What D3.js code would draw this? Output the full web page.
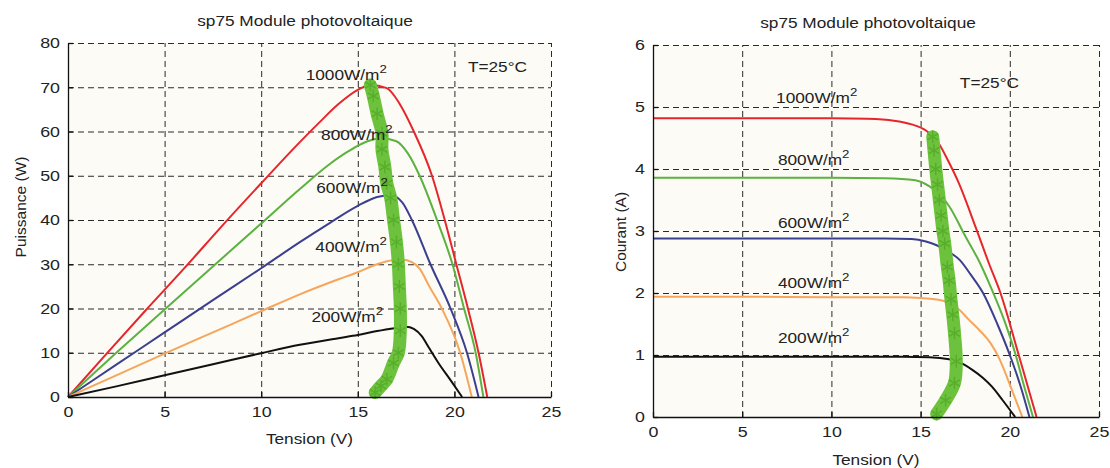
<!DOCTYPE html>
<html>
<head>
<meta charset="utf-8">
<script src="https://d3js.org/d3.v7.min.js"></script>
<style>
  body { margin: 0; background: #fff; }
  text { font-family: "Liberation Sans", Arial, sans-serif; fill: #222; }
  .grid line { stroke: #2a2a2a; stroke-dasharray: 6,4; stroke-width: 1; }
  .grid path { display: none; }
  .axis path, .axis line { stroke: #111; stroke-width: 1.3; }
  .axis text { font-size: 15.5px; fill: #222; }
</style>
</head>
<body>
<div id="chart"></div>
<script>

// ---- data ----
const irradiances = ["1000", "800", "600", "400", "200"];
const tempLabel = "T=25°C";
const chartTitle = "sp75 Module photovoltaique";
const xTicks = [0, 5, 10, 15, 20, 25];
const powerTicks = [0, 10, 20, 30, 40, 50, 60, 70, 80];
const currentTicks = [0, 1, 2, 3, 4, 5, 6];

// P-V curves [V, P]
const pv1000 = [[0,0],[2,9.8],[4,19.5],[6,29],[8,38.8],[10,48.3],[12,57.6],[13,62],[14,66.2],[15,69.4],[15.65,70.5],[16.5,69.8],[17.2,66],[17.9,60],[18.84,50],[19.5,40],[20.1,30],[20.7,20],[21.25,10],[21.7,0]];
const pv800  = [[0,0],[2.5,10],[5,19.8],[7.5,29.5],[10,39.2],[12,47],[13.5,52.5],[14.5,55.5],[15.5,57.8],[16.2,58.5],[17,57.8],[17.6,55],[18.2,50],[19.1,40],[19.9,30],[20.5,20],[21.1,10],[21.5,0]];
const pv600  = [[0,0],[2.5,7.3],[5,14.6],[7.5,21.9],[10,29.1],[12,35],[13.5,39.2],[15,43.2],[16,45.2],[16.7,45.6],[17.3,44],[17.8,40],[18.76,30],[19.8,20],[20.65,10],[21.25,0]];
const pv400  = [[0,0],[2.5,4.9],[5,9.8],[7.5,14.6],[10,19.4],[12,23.2],[14,26.6],[15,28.2],[16,30],[16.8,30.9],[17.3,31],[17.8,30.5],[18.2,29],[18.7,25],[19.35,20],[20.3,10],[20.9,0]];
const pv200  = [[0,0],[2.5,2.4],[5,4.9],[7.5,7.4],[10,9.9],[12,11.8],[14,13.3],[15,14],[16,14.9],[17,15.6],[17.5,15.9],[17.9,15.4],[18.3,13.8],[18.7,11],[19.2,7.5],[19.8,3.8],[20.4,0]];
const pvTrack = [[15.9,1],[16.2,2.5],[16.5,4],[16.85,7.7],[17.1,10],[17.2,15],[17.2,20],[17.15,25],[17.1,30],[17.0,35],[16.85,40],[16.7,45],[16.5,48.3],[16.4,52],[16.25,56],[16.25,59.6],[16.0,64],[15.8,68],[15.65,70.5]];

// I-V curves [V, I]
const iv1000 = [[0,4.82],[5,4.82],[10,4.82],[12,4.81],[13.5,4.78],[14.5,4.72],[15.3,4.62],[16,4.42],[16.6,4.1],[17.1,3.8],[18.1,3.05],[18.8,2.5],[19.5,1.98],[20.5,1.0],[21.0,0.5],[21.5,0]];
const iv800  = [[0,3.86],[5,3.86],[10,3.86],[13,3.85],[14.7,3.82],[15.5,3.72],[16.1,3.58],[16.6,3.4],[17.5,2.92],[18.3,2.5],[19.0,2.05],[19.7,1.55],[20.33,1.0],[20.8,0.5],[21.3,0]];
const iv600  = [[0,2.88],[5,2.88],[10,2.88],[13,2.88],[14.5,2.87],[15.3,2.83],[15.9,2.77],[16.6,2.66],[17.2,2.53],[17.8,2.3],[18.5,2.0],[19.3,1.5],[20.0,1.0],[20.6,0.5],[21.1,0]];
const iv400  = [[0,1.94],[5,1.94],[10,1.93],[14,1.93],[15,1.92],[15.8,1.9],[16.6,1.84],[17.2,1.72],[17.7,1.57],[18.3,1.4],[18.9,1.2],[19.4,0.95],[19.9,0.6],[20.3,0.3],[20.7,0]];
const iv200  = [[0,0.97],[5,0.97],[10,0.97],[14,0.97],[15.5,0.965],[16.6,0.93],[17.2,0.88],[17.9,0.76],[18.5,0.63],[19,0.49],[19.6,0.27],[20.3,0]];
const ivTrack = [[15.9,0.05],[16.4,0.27],[16.9,0.55],[17.0,0.9],[16.9,1.35],[16.8,1.65],[16.7,1.9],[16.6,2.2],[16.5,2.42],[16.35,2.8],[16.25,3.0],[16.15,3.25],[16.05,3.5],[15.95,3.75],[15.85,4.0],[15.75,4.3],[15.68,4.52]];

const curveColors = ["#e5262b", "#5cb240", "#3b3f8f", "#f6a65c", "#111111"];
const stretchX = 1.15; // the reference text looks wider than it is tall

const width = 1110, height = 468;

const svg = d3.select("#chart").append("svg")
  .attr("width", width)
  .attr("height", height);

// text placed through a translate + horizontal stretch
function addText(g, x, y, size, anchor) {
  return g.append("text")
    .attr("transform", "translate(" + x + "," + y + ") scale(" + stretchX + ",1)")
    .attr("text-anchor", anchor || "start")
    .attr("font-size", size);
}

function drawPanel(p) {
  const x = d3.scaleLinear().domain([0, 25]).range([p.left, p.right]);
  const y = d3.scaleLinear().domain([0, p.yMax]).range([p.bottom, p.top]);
  const g = svg.append("g");

  // plot background
  g.append("rect")
    .attr("x", x(0)).attr("y", y(p.yMax))
    .attr("width", x(25) - x(0)).attr("height", y(0) - y(p.yMax))
    .attr("fill", "#fdfbf6");

  // dashed grid
  g.append("g").attr("class", "grid")
    .attr("transform", "translate(0," + y(0) + ")")
    .call(d3.axisBottom(x).tickValues(xTicks.slice(1)).tickSize(-(y(0) - y(p.yMax))).tickFormat(""));
  g.append("g").attr("class", "grid")
    .attr("transform", "translate(" + x(0) + ",0)")
    .call(d3.axisLeft(y).tickValues(p.yTicks.slice(1)).tickSize(-(x(25) - x(0))).tickFormat(""));

  // curves
  const line = d3.line().x(d => x(d[0])).y(d => y(d[1])).curve(d3.curveMonotoneX);
  p.curves.forEach((c, i) => {
    g.append("path").datum(c)
      .attr("d", line)
      .attr("fill", "none")
      .attr("stroke", curveColors[i])
      .attr("stroke-width", 2);
  });

  // MPP track
  const trackLine = d3.line().x(d => x(d[0])).y(d => y(d[1])).curve(d3.curveCatmullRom.alpha(0.5));
  g.append("path").datum(p.track)
    .attr("d", trackLine)
    .attr("fill", "none")
    .attr("stroke", "#6cc23c")
    .attr("stroke-width", 13)
    .attr("stroke-linecap", "round");
  g.selectAll(".star").data(p.track).enter().append("path")
    .attr("transform", d => "translate(" + x(d[0]) + "," + y(d[1]) + ")")
    .attr("d", d3.symbol(d3.symbolAsterisk, 110))
    .attr("fill", "none")
    .attr("stroke", "#58ad2a")
    .attr("stroke-width", 1.4);

  // axes
  const xa = g.append("g").attr("class", "axis")
    .attr("transform", "translate(0," + y(0) + ")")
    .call(d3.axisBottom(x).tickValues(xTicks).tickSizeInner(-5).tickSizeOuter(0).tickPadding(9));
  const ya = g.append("g").attr("class", "axis")
    .attr("transform", "translate(" + x(0) + ",0)")
    .call(d3.axisLeft(y).tickValues(p.yTicks).tickFormat(d3.format("d")).tickSizeInner(-5).tickSizeOuter(0).tickPadding(7));
  xa.selectAll("text").attr("transform", "scale(" + stretchX + ",1)");
  ya.selectAll("text").attr("transform", "scale(" + stretchX + ",1)");

  // irradiance labels
  irradiances.forEach((v, i) => {
    const t = addText(g, x(p.labels[i][0]), y(p.labels[i][1]), 15);
    t.append("tspan").text(v + "W/m");
    t.append("tspan").text("2").attr("font-size", 11.5).attr("dy", -7);
  });

  addText(g, x(p.temp[0]), y(p.temp[1]), 15).text(tempLabel);

  // titles
  addText(g, p.titleX, p.top - 17, 15, "middle").text(chartTitle);
  addText(g, (p.left + p.right) / 2, p.bottom + p.xLabelOffset, 15, "middle").text("Tension (V)");

  g.append("text")
    .attr("transform", "translate(" + p.yLabelX + "," + p.yLabelY + ") rotate(-90)")
    .attr("text-anchor", "middle")
    .attr("font-size", 15.5)
    .text(p.yLabel);
}

drawPanel({
  left: 68, right: 551, top: 43, bottom: 397, yMax: 80,
  yTicks: powerTicks,
  curves: [pv1000, pv800, pv600, pv400, pv200],
  track: pvTrack,
  labels: [[12.3, 71.6], [13.1, 58.1], [12.85, 46.1], [12.8, 32.8], [12.6, 16.9]],
  temp: [20.7, 73.4],
  titleX: 305,
  xLabelOffset: 47,
  yLabel: "Puissance (W)", yLabelX: 26, yLabelY: 207
});

drawPanel({
  left: 653, right: 1099, top: 45, bottom: 417, yMax: 6,
  yTicks: currentTicks,
  curves: [iv1000, iv800, iv600, iv400, iv200],
  track: ivTrack,
  labels: [[6.9, 5.06], [7.0, 4.06], [7.0, 3.05], [7.0, 2.08], [7.0, 1.19]],
  temp: [17.2, 5.3],
  titleX: 868,
  xLabelOffset: 48,
  yLabel: "Courant (A)", yLabelX: 626, yLabelY: 232
});

</script>
</body>
</html>
